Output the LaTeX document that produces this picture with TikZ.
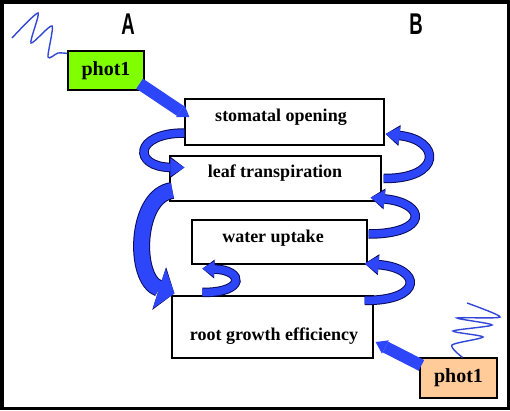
\documentclass[tikz,border=0pt]{standalone}
\usepackage{fontspec}
\usepackage{graphicx}
\setmainfont{Liberation Serif}
\newfontfamily\labelfont{Liberation Sans}
\usetikzlibrary{arrows.meta,calc}
\definecolor{ribbonblue}{RGB}{45,70,250}
\definecolor{ribbonedge}{RGB}{10,10,90}
\definecolor{wavecol}{RGB}{50,70,215}
\definecolor{photgreen}{RGB}{128,255,0}
\definecolor{photpeach}{RGB}{255,204,153}
\begin{document}
\begin{tikzpicture}[x=1pt, y=-1pt,
  box/.style={draw, fill=white, line width=1.2pt, inner sep=0pt},
  caption/.style={font=\bfseries\fontsize{18}{20}\selectfont, anchor=base, inner sep=0pt},
  photbox/.style={draw, line width=1.2pt, inner sep=0pt, font=\bfseries\fontsize{20}{22}\selectfont},
  sidelabel/.style={font=\labelfont\bfseries\fontsize{30}{30}\selectfont, inner sep=0pt},
  wave/.style={draw=wavecol, line width=1.4pt},
  push/.style={draw=ribbonblue, line width=12pt, -{Triangle[width=15pt,length=11pt,line width=0pt]}},
  ribbon/.style n args={5}{draw=ribbonblue, line width=#1,
    -{Triangle[width=#2,length=#3,line width=0pt]},
    preaction={draw=ribbonedge, line width=#4, -{Triangle[width=#5,length=#3,line width=0pt]}}}]
  \useasboundingbox (0,0) rectangle (510,410);

  % frame and side labels
  \draw[line width=3.5pt] (1.75,1.75) rectangle (508.25,408.25);
  \node[sidelabel] (labA) at (128,24) {\scalebox{0.62}[1]{A}};
  \node[sidelabel] (labB) at (416,24) {\scalebox{0.62}[1]{B}};

  % processes
  \node[box, minimum width=199pt, minimum height=46pt] (stom) at (284.5,122) {};
  \node[caption] (stomtext) at (281,121) {stomatal opening};
  \node[box, minimum width=211pt, minimum height=45pt] (leaf) at (275.5,178.5) {};
  \node[caption] (leaftext) at (275,177) {leaf transpiration};
  \node[box, minimum width=175pt, minimum height=44pt] (water) at (279.5,242) {};
  \node[caption] (watertext) at (273,242) {water uptake};
  \node[box, minimum width=201pt, minimum height=62pt] (root) at (272.5,327) {};
  \node[caption] (roottext) at (274,340) {root growth efficiency};

  % photoreceptors
  \node[photbox, fill=photgreen, minimum width=76pt, minimum height=39pt] (photA) at (106,70.5) {phot1};
  \node[photbox, fill=photpeach, minimum width=77pt, minimum height=40pt] (photB) at (458.5,378) {phot1};

  % light
  \draw[wave] plot[smooth, tension=0.45] coordinates {(12,38) (38,13) (31,43) (52,26) (48,57) (58,53) ([yshift=-3pt]photA.north west)};
  \draw[wave] plot[smooth, tension=0.45] coordinates {([xshift=43pt]photB.north west) (452,345) (483,337) (453,331) (492,325) (457,318) (500,317) (467,303)};

  % phot1 action
  \draw[push] ($(photA.south east)+(-5,-7)$) -- ($(stom.west)+(5,-5)$);
  \draw[push] ($(photB.north west)+(2,8)$) -- ($(root.east)+(2,15)$);

  % side A
  \draw[ribbon={7.5pt}{18pt}{14pt}{9.5pt}{21pt}] ($(stom.west)+(0,11)$) .. controls (133,133) and (133,167) .. ($(leaf.west)+(15,-11)$);
  \draw[ribbon={15pt}{42pt}{16pt}{17pt}{45pt}] ($(leaf.west)+(3,12)$) .. controls (135,195) and (133,280) .. ($(root.north west)+(3,-2)$);
  \draw[ribbon={7.5pt}{16pt}{12pt}{9.5pt}{19pt}] ($(root.north west)+(31,-3)$) .. controls (246,293) and (244,270) .. ($(water.south west)+(11,4)$);

  % side B
  \draw[ribbon={7.5pt}{18pt}{14pt}{9.5pt}{21pt}] ($(leaf.east)+(2,0)$) .. controls (443,179) and (441,140) .. ($(stom.east)+(1,12)$);
  \draw[ribbon={7.5pt}{18pt}{14pt}{9.5pt}{21pt}] ($(water.east)+(1,-8)$) .. controls (429,234) and (427,203) .. ($(leaf.south east)+(-11,-4)$);
  \draw[ribbon={7.5pt}{18pt}{14pt}{9.5pt}{21pt}] ($(root.north east)+(-9,5)$) .. controls (424,301) and (422,268) .. ($(water.south east)+(-3,-1)$);
\end{tikzpicture}
\end{document}
